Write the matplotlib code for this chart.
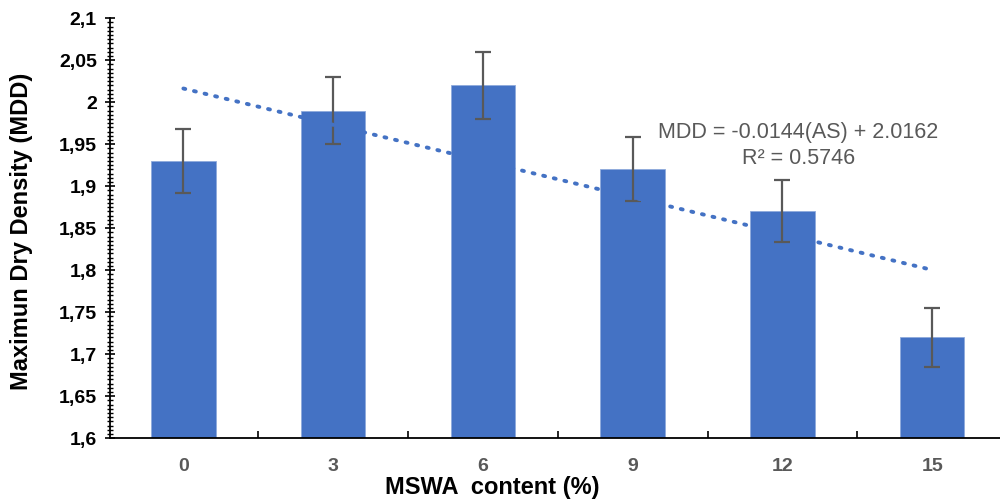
import numpy as np
import matplotlib.pyplot as plt
from matplotlib.ticker import MultipleLocator, FixedLocator, FuncFormatter

plt.rcParams['font.family'] = ['Liberation Sans', 'DejaVu Sans']

content = [0, 3, 6, 9, 12, 15]
mdd = [1.93, 1.99, 2.02, 1.92, 1.87, 1.72]
mdd_err = [0.038, 0.04, 0.04, 0.038, 0.037, 0.035]
trend_slope = -0.0144
trend_icpt = 2.0162
r2 = 0.5746

BLUE = '#4472C4'
GREY = '#595959'

fig = plt.figure(figsize=(10, 5.03), dpi=100)
ax = fig.add_axes([0.11, 0.129, 0.90, 0.835])

pos = np.arange(len(content))
ax.bar(pos, [v - 1.6 for v in mdd], bottom=1.6, width=0.43, color=BLUE,
       edgecolor='#8faadc', linewidth=0.6, zorder=2)
ax.errorbar(pos, mdd, yerr=mdd_err, fmt='none', ecolor=GREY, elinewidth=1.6,
            capsize=6, capthick=1.6, zorder=3)

# linear trendline, x in percent
xs = np.array([content[0], content[-1]])
ax.plot(pos[[0, -1]], trend_icpt + trend_slope * xs, color=BLUE, lw=2.8,
        linestyle=(0, (0.5, 2.3)), dash_capstyle='round', zorder=4)

ax.text(0.765, 0.697,
        'MDD = %.4f(AS) + %.4f\nR² = %.4f' % (trend_slope, trend_icpt, r2),
        transform=ax.transAxes, ha='center', va='center', fontsize=15.5,
        color=GREY, linespacing=1.3)

ax.set_xlim(-0.49, 5.52)
ax.set_ylim(1.6, 2.1)
ax.yaxis.set_major_locator(MultipleLocator(0.05))
ax.yaxis.set_minor_locator(MultipleLocator(0.005))
ax.yaxis.set_major_formatter(FuncFormatter(lambda v, p: ('%g' % round(v, 2)).replace('.', ',')))
ax.set_xticks(pos)
ax.set_xticklabels([str(c) for c in content])
ax.xaxis.set_minor_locator(FixedLocator(pos[:-1] + 0.5))

ax.tick_params(axis='y', which='major', direction='inout', length=7, width=1.2,
               labelsize=14, pad=6)
ax.tick_params(axis='y', which='minor', direction='inout', length=4, width=1)
ax.tick_params(axis='x', which='both', direction='in', length=5, width=1.2,
               labelsize=14, pad=14, labelcolor=GREY)
for t in ax.get_yticklabels() + ax.get_xticklabels():
    t.set_fontweight('bold')

for s in ['top', 'right']:
    ax.spines[s].set_visible(False)
ax.spines['left'].set_linewidth(1.3)
ax.spines['bottom'].set_linewidth(1.3)

fig.text(0.022, 0.54, 'Maximun Dry Density (MDD)', rotation=90, ha='center',
         va='center', fontsize=17, fontweight='bold')
fig.text(0.492, 0.03, 'MSWA  content (%)', ha='center', va='center',
         fontsize=17, fontweight='bold')

fig.savefig('out.png', dpi=100)
